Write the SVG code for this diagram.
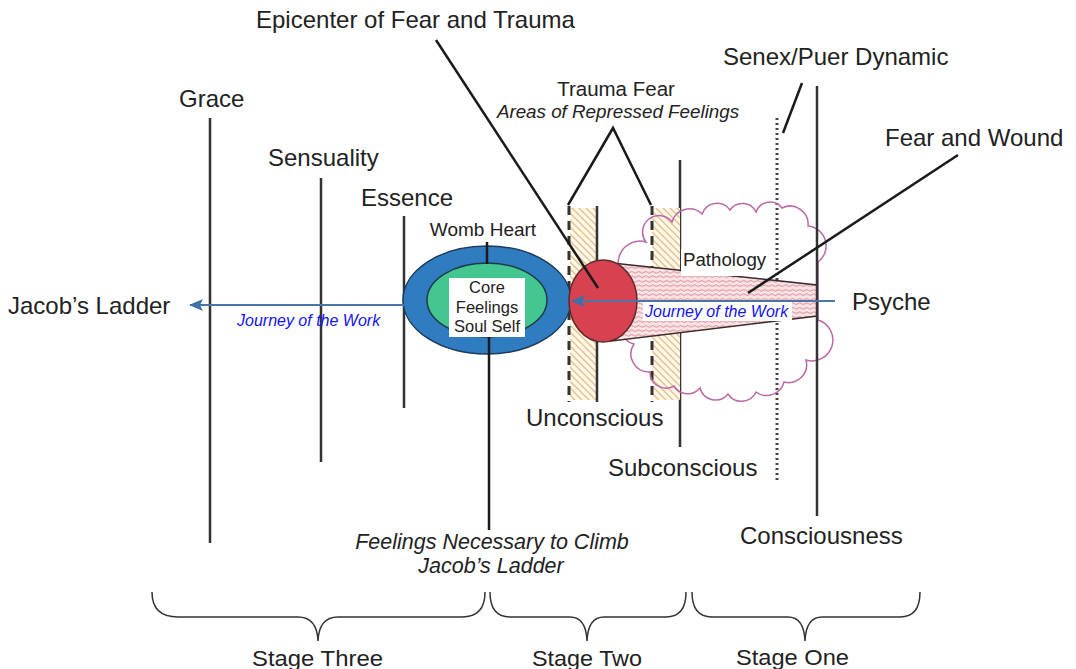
<svg xmlns="http://www.w3.org/2000/svg" width="1076" height="669" viewBox="0 0 1076 669">
  <defs>
    <style>
      .t { font-family: "Liberation Sans", Arial, sans-serif; fill: #222; }
      .it { font-style: italic; }
      .jw { font-family: "Liberation Sans", Arial, sans-serif; font-style: italic; fill: #1414f0; font-size: 16px; }
      .v { stroke: #333; stroke-width: 2.5; fill: none; }
      .dash { stroke: #333; stroke-width: 3; stroke-dasharray: 9 6; fill: none; }
      .dot { stroke: #444; stroke-width: 3; stroke-dasharray: 2 3; fill: none; }
      .lead { stroke: #1a1a1a; stroke-width: 2.5; fill: none; }
      .brace { stroke: #333; stroke-width: 1.5; fill: none; }
      .arrow { stroke: #4a75a8; stroke-width: 2; fill: none; }
    </style>
    <pattern id="hatch" patternUnits="userSpaceOnUse" width="7" height="7">
      <rect width="7" height="7" fill="#fdf7ec"/>
      <path d="M-1 -1 L8 8 M6 -1 L8 1 M-1 6 L1 8" stroke="#e7c288" stroke-width="1.4"/>
    </pattern>
    <pattern id="waves" patternUnits="userSpaceOnUse" width="7" height="4.5">
      <rect width="7" height="4.5" fill="#f8e4e4"/>
      <path d="M0 2.25 Q1.75 0.6 3.5 2.25 T7 2.25" stroke="#d97482" stroke-width="0.9" fill="none"/>
    </pattern>
    <marker id="ah2" viewBox="0 0 14 12" refX="13" refY="6" markerWidth="14" markerHeight="12" orient="auto" markerUnits="userSpaceOnUse">
      <path d="M14 6 L0 0 L3 6 L0 12 Z" fill="#3f6fa8"/>
    </marker>
  </defs>

  <rect width="1076" height="669" fill="#ffffff"/>

  <!-- Level lines -->
  <g id="levels">
    <line class="v" x1="210" y1="118" x2="210" y2="543"/>
    <line class="v" x1="321" y1="178" x2="321" y2="462"/>
    <line class="v" x1="404" y1="216" x2="404" y2="408"/>
    <line class="v" x1="680" y1="160" x2="680" y2="447"/>
    <line class="dot" x1="777" y1="118" x2="777" y2="482"/>
  </g>

  <!-- Trauma fear bands -->
  <g id="trauma-bands">
    <rect x="570" y="208" width="27" height="192" fill="url(#hatch)"/>
    <rect x="652" y="208" width="28" height="192" fill="url(#hatch)"/>
    <line class="dash" x1="569" y1="206" x2="569" y2="402"/>
    <line class="v" x1="597" y1="206" x2="597" y2="402"/>
    <line class="dash" x1="652" y1="206" x2="652" y2="402"/>
  </g>

  <!-- Pathology cloud -->
  <g id="cloud">
    <path d="M646 242 A16 16 0 0 1 672 222 A18 18 0 0 1 702 214 A16 16 0 0 1 730 210 A15 15 0 0 1 756 212 A15 15 0 0 1 782 208 A18 18 0 0 1 808 226 A20 20 0 0 1 818 262 L818 320 A18 18 0 0 1 806 360 A18 18 0 0 1 784 382 A18 18 0 0 1 756 392 A16 16 0 0 1 728 394 A16 16 0 0 1 700 388 A16 16 0 0 1 674 386 A16 16 0 0 1 650 372 A18 18 0 0 1 634 344 A16 16 0 0 1 630 314 A16 16 0 0 1 634 284 A18 18 0 0 1 646 242 Z" fill="none" stroke="#bb6aa6" stroke-width="1.5"/>
  </g>

  <!-- Fear and wound cone -->
  <g id="cone">
    <polygon points="612,263 817,285 817,316 612,341" fill="url(#waves)" stroke="#3a2a2a" stroke-width="1.5"/>
  </g>

  <line class="v" x1="817" y1="86" x2="817" y2="516"/>

  <!-- Womb heart ellipse -->
  <g id="womb-heart">
    <ellipse cx="487" cy="300" rx="84" ry="54" fill="#2f7cc1" stroke="#1d3b5a" stroke-width="1.5"/>
    <ellipse cx="487" cy="300" rx="60" ry="37" fill="#44c690" stroke="#1d3b4a" stroke-width="1.5"/>
    <rect x="449" y="278" width="76" height="59" fill="#ffffff"/>
    <text class="t" font-size="16.5" text-anchor="middle" x="487" y="293">Core</text>
    <text class="t" font-size="16.5" text-anchor="middle" x="487" y="313">Feelings</text>
    <text class="t" font-size="16.5" text-anchor="middle" x="487" y="332">Soul Self</text>
  </g>

  <!-- Epicenter circle -->
  <g id="epicenter">
    <ellipse cx="603" cy="301" rx="34" ry="41" fill="#d8414f" stroke="#5a2a2a" stroke-width="1.5"/>
  </g>

  <!-- Connectors -->
  <g id="connectors">
    <line class="arrow" x1="835" y1="301" x2="572" y2="301" marker-end="url(#ah2)"/>
    <line class="arrow" x1="404" y1="305" x2="190" y2="305" marker-end="url(#ah2)"/>
    <line class="lead" x1="436" y1="40" x2="598" y2="288"/>
    <polyline class="lead" points="568,205 613,128 651,205"/>
    <line class="lead" x1="802" y1="83" x2="783" y2="133"/>
    <line class="lead" x1="958" y1="155" x2="748" y2="293"/>
    <line class="lead" x1="487" y1="242" x2="487" y2="264"/>
    <line class="lead" x1="489" y1="337" x2="489" y2="530"/>
  </g>

  <!-- Stage braces -->
  <g id="braces">
    <path class="brace" d="M152 592 Q152 617 178 617 L298 617 Q317 617 318 641 Q319 617 338 617 L462 617 Q485 617 485 592"/>
    <path class="brace" d="M490 592 Q490 617 510 617 L570 617 Q586 617 587 641 Q588 617 604 617 L666 617 Q686 617 686 592"/>
    <path class="brace" d="M692 592 Q692 617 712 617 L788 617 Q804 617 805 641 Q806 617 822 617 L900 617 Q920 617 920 592"/>
  </g>

  <!-- Labels -->
  <g id="labels">
    <text class="t" font-size="24" x="256" y="28">Epicenter of Fear and Trauma</text>
    <text class="t" font-size="20.5" text-anchor="middle" x="616" y="96">Trauma Fear</text>
    <text class="t it" font-size="18.8" text-anchor="middle" x="618" y="118">Areas of Repressed Feelings</text>
    <text class="t" font-size="24" x="723" y="65">Senex/Puer Dynamic</text>
    <text class="t" font-size="24" x="885" y="146">Fear and Wound</text>
    <text class="t" font-size="24" x="179" y="107">Grace</text>
    <text class="t" font-size="24" x="268" y="166">Sensuality</text>
    <text class="t" font-size="24" x="361" y="206">Essence</text>
    <text class="t" font-size="19" text-anchor="middle" x="483" y="236">Womb Heart</text>
    <text class="t" font-size="24" x="8" y="314">Jacob’s Ladder</text>
    <text class="t" font-size="24" x="852" y="310">Psyche</text>
    <rect x="681" y="249" width="86" height="27" fill="#ffffff"/>
    <text class="t" font-size="18.7" x="683" y="266">Pathology</text>
    <text class="jw" x="237" y="326">Journey of the Work</text>
    <rect x="643" y="302" width="149" height="19" fill="#ffffff"/>
    <text class="jw" x="645" y="317">Journey of the Work</text>
    <text class="t" font-size="24" x="526" y="426">Unconscious</text>
    <text class="t" font-size="24" x="608" y="476">Subconscious</text>
    <text class="t" font-size="24" x="740" y="544">Consciousness</text>
    <text class="t it" font-size="21.5" text-anchor="middle" x="492" y="549">Feelings Necessary to Climb</text>
    <text class="t it" font-size="21.5" text-anchor="middle" x="491" y="573">Jacob’s Ladder</text>
    <text class="t" font-size="22" x="252" y="666" textLength="131" lengthAdjust="spacingAndGlyphs">Stage Three</text>
    <text class="t" font-size="22" x="532" y="666" textLength="110" lengthAdjust="spacingAndGlyphs">Stage Two</text>
    <text class="t" font-size="22" x="736" y="665" textLength="113" lengthAdjust="spacingAndGlyphs">Stage One</text>
  </g>
</svg>
